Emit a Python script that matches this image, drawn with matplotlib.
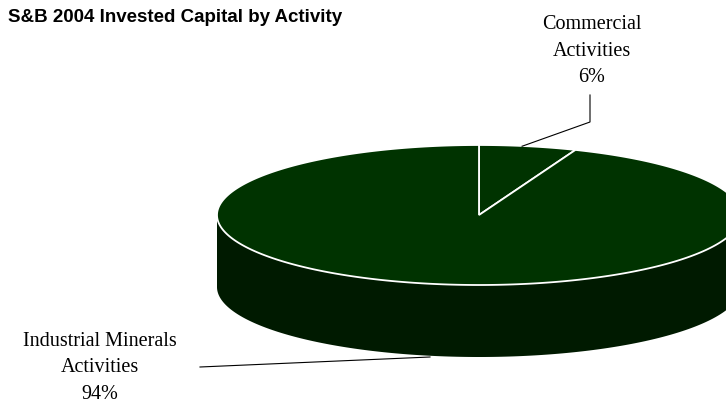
import numpy as np
import matplotlib
matplotlib.use("Agg")
import matplotlib.pyplot as plt
from matplotlib.patches import Polygon

# ---------- Data ----------
labels = ["Commercial\nActivities", "Industrial Minerals\nActivities"]
shares = [6, 94]

TOP_COLOR = "#003300"
SIDE_COLOR = "#001a00"

# ---------- Geometry (pixel space) ----------
W, H = 726, 409
cx, cy = 479, 215
a, b = 262, 70
depth = 72


def pt(theta_deg, dz=0.0):
    t = np.radians(theta_deg)
    return cx + a * np.cos(t), cy - b * np.sin(t) + dz


fig = plt.figure(figsize=(W / 100, H / 100), dpi=100)
ax = fig.add_axes([0, 0, 1, 1])
ax.set_xlim(0, W)
ax.set_ylim(H, 0)
ax.axis("off")

# side wall (front half of ellipse, 180..360 deg)
th = np.linspace(180, 360, 200)
top_arc = np.array([pt(t) for t in th])
bot_arc = np.array([pt(t, depth) for t in th[::-1]])
side = np.vstack([top_arc, bot_arc])
ax.add_patch(Polygon(side, closed=True, facecolor=SIDE_COLOR, edgecolor="none", zorder=1))

# top wedges, starting at 12 o'clock, going clockwise
total = float(sum(shares))
start = 90.0
mids = []
for val in shares:
    sweep = 360.0 * val / total
    end = start - sweep
    th = np.linspace(start, end, max(int(sweep * 2), 10))
    arc = np.array([pt(t) for t in th])
    poly = np.vstack([[cx, cy], arc])
    ax.add_patch(Polygon(poly, closed=True, facecolor=TOP_COLOR,
                         edgecolor="white", linewidth=1.3, zorder=2))
    mids.append((start + end) / 2)
    start = end

# leader lines and labels
lab_font = dict(family="Liberation Serif", fontsize=14.5, color="black",
                ha="center", va="center", linespacing=1.55)

# Commercial
ex, ey = pt(mids[0])
ax.plot([ex - 6, 590, 590], [ey, 122, 95], color="black", lw=0.8, zorder=3)
ax.text(592, 51, f"{labels[0]}\n{shares[0]}%", **lab_font)

# Industrial Minerals
ax.plot([200, 430], [367, 357], color="black", lw=0.8, zorder=3)
ax.text(100, 368, f"{labels[1]}\n{shares[1]}%", **lab_font)

# title
ax.text(8, 18, "S&B 2004 Invested Capital by Activity", family="Liberation Sans",
        fontsize=13.5, fontweight="bold", ha="left", va="center", color="black")

fig.savefig("out.png", dpi=100, facecolor="white")
